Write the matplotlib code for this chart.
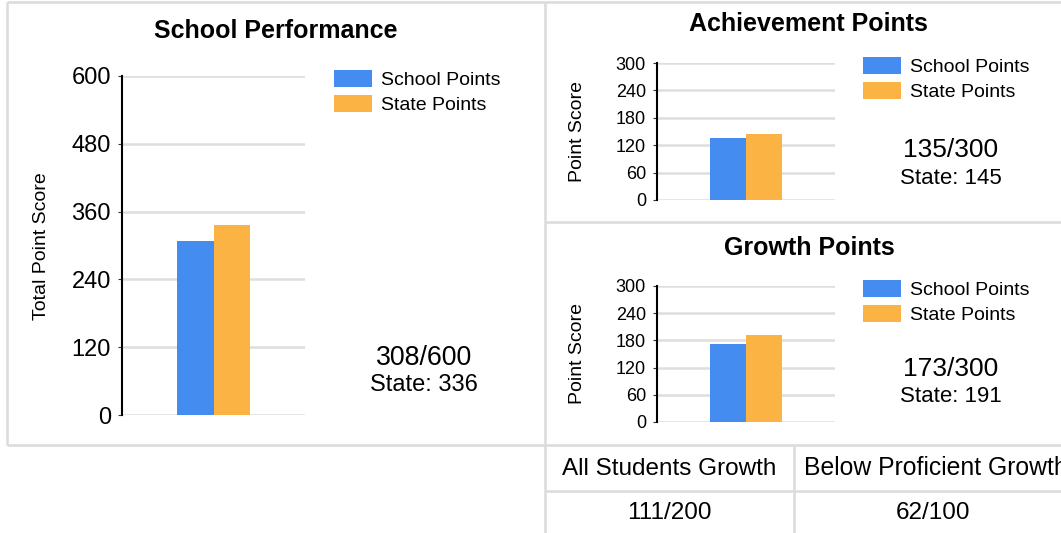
import matplotlib
matplotlib.use("Agg")
import matplotlib.pyplot as plt
from matplotlib.patches import Rectangle

plt.rcParams["font.family"] = ["Liberation Sans", "DejaVu Sans"]

W, H = 1061, 533

# data
titles = ["School Performance", "Achievement Points", "Growth Points"]
y_labels = ["Total Point Score", "Point Score", "Point Score"]
series_names = ["School Points", "State Points"]
school_points = [308, 135, 173]
state_points = [336, 145, 191]
max_points = [600, 300, 300]
y_ticks = [[0, 120, 240, 360, 480, 600],
           [0, 60, 120, 180, 240, 300],
           [0, 60, 120, 180, 240, 300]]
table_headers = ["All Students Growth", "Below Proficient Growth"]
table_values = ["111/200", "62/100"]

colors = ["#448cef", "#fbb343"]
border = "#dcdcdc"
grid = "#dedede"

# layout in pixels (y from top)
layout = [
    dict(axes=(122, 76, 305, 415), title=(276, 29), ylab=(42, 246), key_x=334, key_y=(78, 103),
         score=(424, 355), state=(424, 383), tick_fs=17, score_fs=19.3, state_fs=17),
    dict(axes=(657, 63, 835, 200), title=(808, 22), ylab=(578, 131), key_x=863, key_y=(65, 90),
         score=(951, 148), state=(951, 176), tick_fs=13, score_fs=19, state_fs=16),
    dict(axes=(657, 286, 835, 422), title=(809, 246), ylab=(578, 353), key_x=863, key_y=(288, 313),
         score=(951, 367), state=(951, 394), tick_fs=13, score_fs=19, state_fs=16),
]


def put_text(ax, x, yc, s, size, **kw):
    # place text so that the cap height is centred on yc
    px = size / 0.72
    ax.text(x, yc + 0.358 * px, s, fontsize=size, va="baseline", **kw)


fig = plt.figure(figsize=(W / 100, H / 100), dpi=100)
bg = fig.add_axes([0, 0, 1, 1])
bg.set_xlim(0, W)
bg.set_ylim(H, 0)
bg.axis("off")

# panel borders
lw = 1.9
for xs, ys in [((7, 545), (2, 2)), ((7, 7), (2, 445)), ((7, 1061), (445, 445)),
               ((545, 545), (2, 533)), ((545, 1061), (2, 2)), ((545, 1061), (222, 222)),
               ((545, 1061), (491, 491)), ((794, 794), (445, 533))]:
    bg.plot(xs, ys, color=border, lw=lw, solid_capstyle="butt")

for i, lay in enumerate(layout):
    x0, y0, x1, y1 = lay["axes"]
    ax = fig.add_axes([x0 / W, 1 - y1 / H, (x1 - x0) / W, (y1 - y0) / H])
    ax.set_facecolor("none")
    ax.bar([-0.5, 0.5], [school_points[i], state_points[i]], width=1.0,
           color=colors, edgecolor="none", zorder=3)
    ax.set_xlim(-2.5, 2.5)
    ax.set_ylim(0, max_points[i])
    ax.set_yticks(y_ticks[i])
    ax.set_xticks([])
    ax.grid(axis="y", color=grid, lw=1.8, zorder=0)
    ax.set_axisbelow(True)
    for side in ["top", "right", "bottom"]:
        ax.spines[side].set_visible(False)
    ax.spines["left"].set_color("black")
    ax.spines["left"].set_linewidth(1.5)
    ax.tick_params(axis="y", length=3, width=0.8, color="#333333", pad=5,
                   labelsize=lay["tick_fs"], labelcolor="black")

    put_text(bg, lay["title"][0], lay["title"][1], titles[i], 18, ha="center", fontweight="bold")
    bg.text(lay["ylab"][0], lay["ylab"][1], y_labels[i], fontsize=14, rotation=90,
            ha="center", va="center")

    kx = lay["key_x"]
    for name, col, ky in zip(series_names, colors, lay["key_y"]):
        bg.add_patch(Rectangle((kx, ky - 8.5), 38, 17, facecolor=col, edgecolor="none"))
        put_text(bg, kx + 47, ky, name, 14, ha="left")

    put_text(bg, lay["score"][0], lay["score"][1], f"{school_points[i]}/{max_points[i]}",
             lay["score_fs"], ha="center")
    put_text(bg, lay["state"][0], lay["state"][1], f"State: {state_points[i]}",
             lay["state_fs"], ha="center")

# growth table
put_text(bg, 669, 466, table_headers[0], 17.5, ha="center")
put_text(bg, 804, 466, table_headers[1], 17.8, ha="left")
put_text(bg, 669, 510, table_values[0], 17.5, ha="center")
put_text(bg, 933, 510, table_values[1], 17.5, ha="center")

fig.savefig("out.png", dpi=100)
